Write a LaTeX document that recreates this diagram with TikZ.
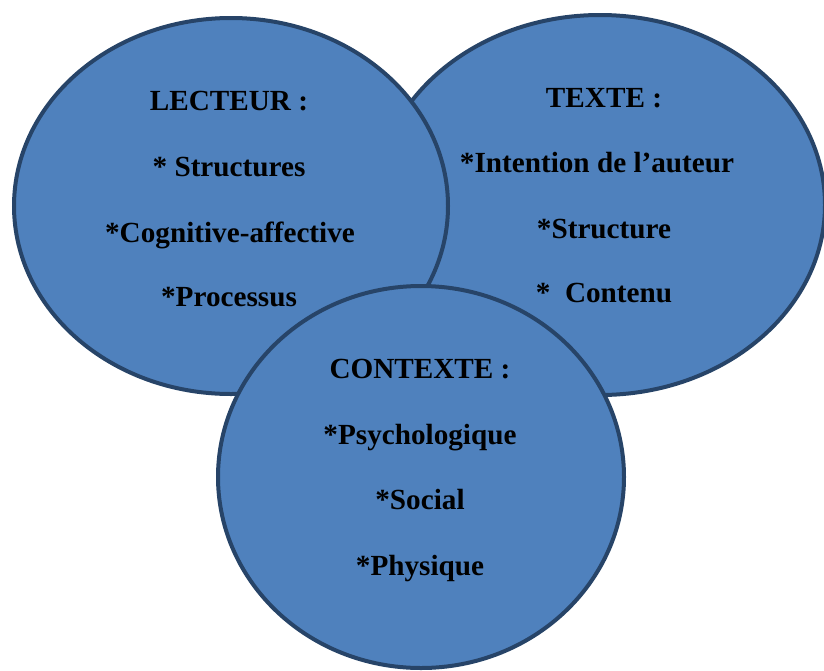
\documentclass[tikz,border=0pt]{standalone}
\usepackage{fontspec}
\setmainfont{Liberation Serif}
\usetikzlibrary{shapes.geometric}
\definecolor{ellfill}{HTML}{4F81BD}
\definecolor{elldraw}{HTML}{274468}
\tikzset{
  ell/.style={ellipse, draw=elldraw, fill=ellfill, line width=4pt, inner sep=0pt},
  lbl/.style={anchor=base, inner sep=0pt, font=\fontsize{29.2}{33}\selectfont\bfseries}
}
\begin{document}
\begin{tikzpicture}[x=1pt,y=-1pt]
\useasboundingbox (0,0) rectangle (824,670);
\clip (0,0) rectangle (824,670);
\node[ell, minimum width=450pt, minimum height=380pt] (texte) at (600,205) {};
\node[ell, minimum width=434pt, minimum height=376pt] (lecteur) at (231,206) {};
\node[ell, minimum width=406pt, minimum height=382pt] (contexte) at (421,477) {};
% LECTEUR
\node[lbl] (l1) at (229,110) {LECTEUR :};
\node[lbl] (l2) at (229,176) {* Structures};
\node[lbl] (l3) at (230,242) {*Cognitive-affective};
\node[lbl] (l4) at (229,306) {*Processus};
% TEXTE
\node[lbl] (t1) at (604,107) {TEXTE :};
\node[lbl] (t2) at (597,172) {*Intention de l’auteur};
\node[lbl] (t3) at (604,238) {*Structure};
\node[lbl] (t4) at (604,302) {*\ \ Contenu};
% CONTEXTE
\node[lbl] (c1) at (420,378) {CONTEXTE :};
\node[lbl] (c2) at (420,444) {*Psychologique};
\node[lbl] (c3) at (420,509) {*Social};
\node[lbl] (c4) at (420,575) {*Physique};
\end{tikzpicture}
\end{document}
